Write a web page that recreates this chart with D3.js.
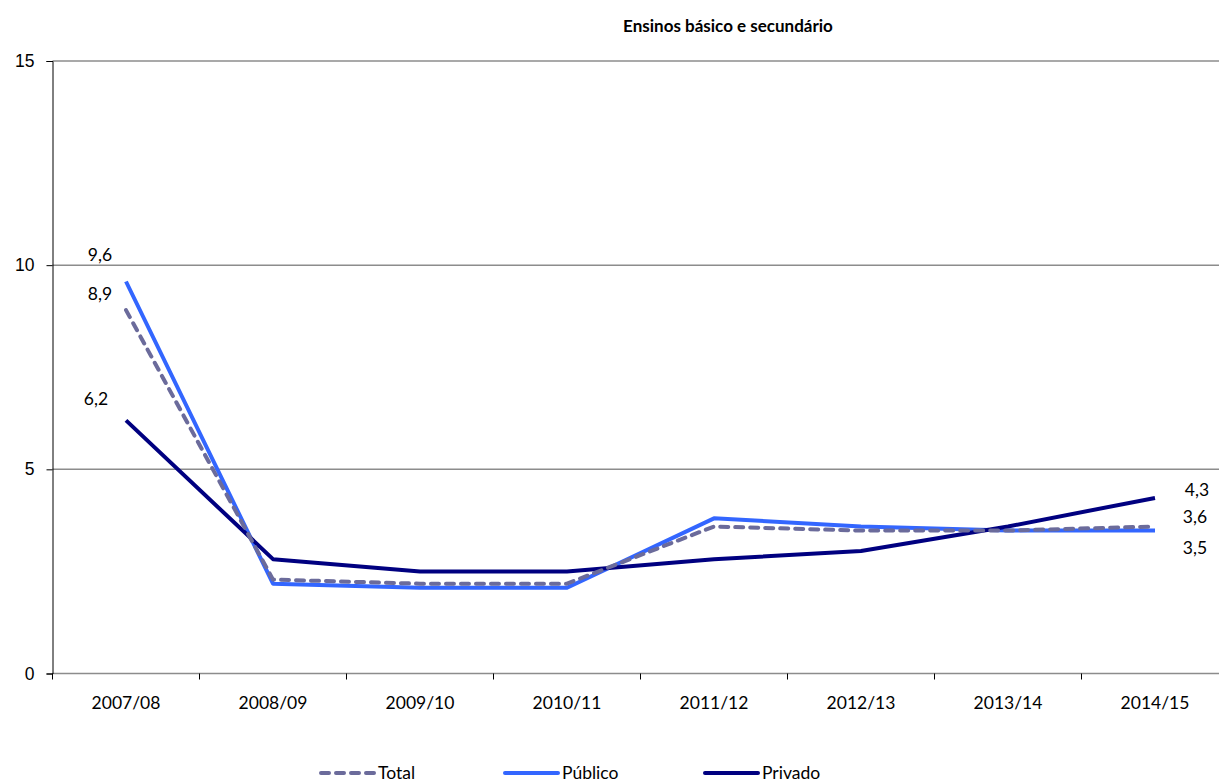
<!DOCTYPE html>
<html>
<head>
<meta charset="utf-8">
<script src="https://cdn.jsdelivr.net/npm/d3@7"></script>
<style>
  body { margin: 0; background: #fff; }
  svg { font-family: Lato, "Open Sans", sans-serif; }
  .grid line { stroke: #8c8c8c; stroke-width: 1.5; }
  .tick text { fill: #000; }
</style>
</head>
<body>
<div id="chart"></div>
<script>
// data ------------------------------------------------------------------
var years = ["2007/08", "2008/09", "2009/10", "2010/11", "2011/12", "2012/13", "2013/14", "2014/15"];
var total   = [8.9, 2.3, 2.2, 2.2, 3.6, 3.5, 3.5, 3.6];
var publico = [9.6, 2.2, 2.1, 2.1, 3.8, 3.6, 3.5, 3.5];
var privado = [6.2, 2.8, 2.5, 2.5, 2.8, 3.0, 3.6, 4.3];
var yTicks = [0, 5, 10, 15];

var series = [
  { name: "Total",   values: total,   color: "#6b6b9b", dash: "8,7" },
  { name: "Público", values: publico, color: "#3366ff", dash: null },
  { name: "Privado", values: privado, color: "#000080", dash: null }
];

// label nudges (px) for first / last point, per series
var firstOffset = { "Total": [-26, -16], "Público": [-26, -27], "Privado": [-30, -21] };
var lastOffset  = { "Total": [40, -10],  "Público": [40, 17],   "Privado": [42, -8] };

var width = 1219, height = 783;
var margin = { top: 61, left: 52.5, bottom: 109.5 };
var plotRight = 1228.5;
var fs = "17.5px";

var svg = d3.select("#chart").append("svg")
    .attr("width", width)
    .attr("height", height);

var x = d3.scaleBand()
    .domain(years)
    .range([margin.left, plotRight]);

var y = d3.scaleLinear()
    .domain([0, 15])
    .range([height - margin.bottom, margin.top]);

// title
svg.append("text")
    .attr("x", 728)
    .attr("y", 32)
    .attr("text-anchor", "middle")
    .style("font-size", "17px")
    .style("font-weight", "bold")
    .text("Ensinos básico e secundário");

// gridlines
svg.append("g")
    .attr("class", "grid")
  .selectAll("line")
    .data(yTicks)
  .enter().append("line")
    .attr("x1", margin.left)
    .attr("x2", width)
    .attr("y1", function(d) { return y(d); })
    .attr("y2", function(d) { return y(d); });

// y axis
var yAxis = svg.append("g")
    .attr("transform", "translate(" + margin.left + ",0)")
    .call(d3.axisLeft(y).tickValues(yTicks).tickSize(6).tickPadding(12));
yAxis.select(".domain").attr("stroke", "#000");
yAxis.selectAll(".tick line").attr("stroke", "#000");
yAxis.selectAll(".tick text").style("font-size", fs);

// x axis (ticks between categories)
var xAxis = svg.append("g")
    .attr("transform", "translate(0," + y(0) + ")");
xAxis.selectAll("line.xt")
    .data(years)
  .enter().append("line")
    .attr("x1", function(d) { return x(d); })
    .attr("x2", function(d) { return x(d); })
    .attr("y1", 0)
    .attr("y2", 6)
    .attr("stroke", "#000");
xAxis.selectAll("text")
    .data(years)
  .enter().append("text")
    .attr("x", function(d) { return x(d) + x.bandwidth() / 2; })
    .attr("y", 35)
    .attr("text-anchor", "middle")
    .style("font-size", fs)
    .text(function(d) { return d; });

// lines
var line = d3.line()
    .x(function(d, i) { return x(years[i]) + x.bandwidth() / 2; })
    .y(function(d) { return y(d); });

var drawOrder = [series[1], series[2], series[0]];
drawOrder.forEach(function(s) {
  svg.append("path")
    .attr("d", line(s.values))
    .attr("fill", "none")
    .attr("stroke", s.color)
    .attr("stroke-width", 4)
    .attr("stroke-linejoin", "round")
    .attr("stroke-linecap", s.dash ? "round" : "butt")
    .attr("stroke-dasharray", s.dash);
});

// data labels at first and last points
var fmt = function(v) { return d3.format(".1f")(v).replace(".", ","); };
series.forEach(function(s) {
  var n = s.values.length;
  var x0 = x(years[0]) + x.bandwidth() / 2,
      xn = x(years[n - 1]) + x.bandwidth() / 2;
  svg.append("text")
    .attr("x", x0 + firstOffset[s.name][0])
    .attr("y", y(s.values[0]) + firstOffset[s.name][1])
    .attr("text-anchor", "middle")
    .attr("dy", "0.35em")
    .style("font-size", fs)
    .text(fmt(s.values[0]));
  svg.append("text")
    .attr("x", xn + lastOffset[s.name][0])
    .attr("y", y(s.values[n - 1]) + lastOffset[s.name][1])
    .attr("text-anchor", "middle")
    .attr("dy", "0.35em")
    .style("font-size", fs)
    .text(fmt(s.values[n - 1]));
});

// legend
var legendX = [321, 505, 705];
var leg = svg.append("g").selectAll("g")
    .data(series)
  .enter().append("g")
    .attr("transform", function(d, i) { return "translate(" + legendX[i] + ",773)"; });
leg.append("line")
    .attr("x1", 0)
    .attr("x2", function(d) { return d.dash ? 54 : 53; })
    .attr("stroke", function(d) { return d.color; })
    .attr("stroke-width", 4)
    .attr("stroke-linecap", "round")
    .attr("stroke-dasharray", function(d) { return d.dash; });
leg.append("text")
    .attr("x", 57)
    .attr("dy", "0.35em")
    .style("font-size", fs)
    .text(function(d) { return d.name; });
</script>
</body>
</html>
